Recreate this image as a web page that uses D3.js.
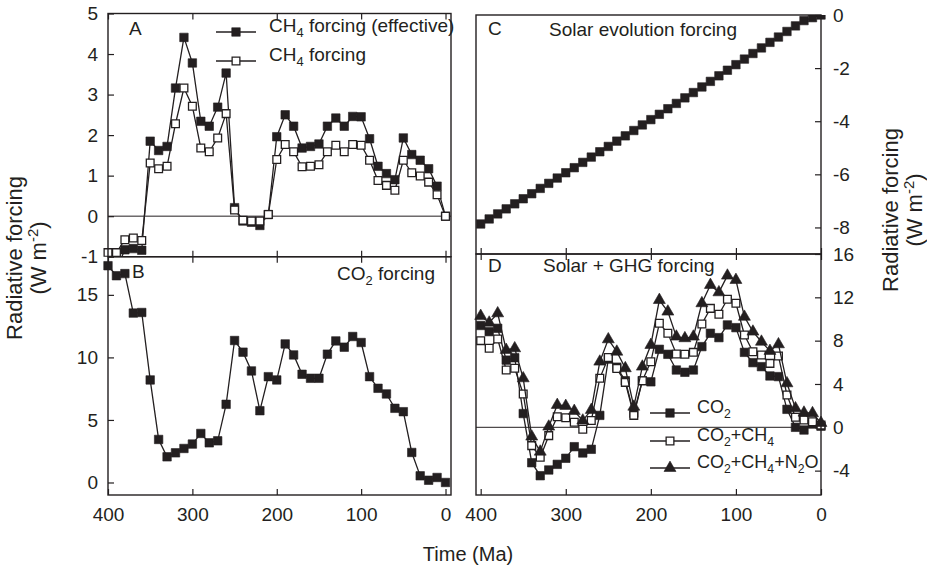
<!DOCTYPE html>
<html>
<head>
<meta charset="utf-8">
<script src="https://cdn.jsdelivr.net/npm/d3@7/dist/d3.min.js"></script>
<style>
  body { margin: 0; background: #fff; }
  svg { font-family: "Liberation Sans", Arial, sans-serif; }
  .axis text { font-size: 19px; fill: #231f20; }
  .axis line { stroke: #231f20; stroke-width: 1.2; }
  .axis path { display: none; }
  .frame { fill: none; stroke: #231f20; stroke-width: 1.4; }
  .series { fill: none; stroke: #231f20; stroke-width: 1.3; }
  .label { font-size: 19px; fill: #231f20; }
</style>
</head>
<body>
<svg id="chart" width="927" height="572"></svg>
<script>
// time (Ma), one point every 10 Myr
var time = [400, 390, 380, 370, 360, 350, 340, 330, 320, 310, 300, 290, 280, 270, 260, 250, 240, 230, 220, 210,
            200, 190, 180, 170, 160, 150, 140, 130, 120, 110, 100, 90, 80, 70, 60, 50, 40, 30, 20, 10, 0];

// panel A
var ch4Effective = [-1.27, -1.3, -0.83, -0.8, -0.84, 1.85, 1.62, 1.72, 3.16, 4.41, 3.78, 2.34, 2.22, 2.69, 3.53, 0.21, -0.12, -0.15, -0.23, 0.04,
                    1.96, 2.5, 2.22, 1.68, 1.72, 1.78, 2.22, 2.42, 2.22, 2.46, 2.45, 1.91, 1.23, 1.05, 0.9, 1.93, 1.52, 1.38, 1.17, 0.74, 0];
var ch4Forcing = [-0.9, -0.9, -0.58, -0.54, -0.6, 1.31, 1.17, 1.23, 2.28, 3.16, 2.71, 1.68, 1.59, 1.93, 2.53, 0.15, -0.1, -0.12, -0.12, 0.04,
                  1.4, 1.77, 1.59, 1.22, 1.23, 1.27, 1.59, 1.75, 1.59, 1.77, 1.75, 1.38, 0.88, 0.76, 0.64, 1.38, 1.07, 0.99, 0.84, 0.53, 0];

// panel B
var co2Forcing = [17.33, 16.53, 16.7, 13.54, 13.59, 8.2, 3.44, 2.05, 2.37, 2.72, 3.07, 3.92, 3.17, 3.33, 6.25, 11.35, 10.42, 8.92, 5.74, 8.46,
                  8.2, 11.08, 10.2, 8.65, 8.33, 8.33, 10.26, 11.32, 10.82, 11.67, 11.19, 8.46, 7.53, 7.08, 5.93, 5.66, 2.4, 0.53, 0.18, 0.4, 0];

// panel C
var solarForcing = [-7.87, -7.68, -7.49, -7.3, -7.11, -6.92, -6.73, -6.53, -6.34, -6.14, -5.94, -5.75, -5.55, -5.35, -5.15, -4.95, -4.75, -4.55, -4.35, -4.14,
                    -3.94, -3.74, -3.53, -3.33, -3.12, -2.92, -2.71, -2.5, -2.29, -2.08, -1.87, -1.66, -1.45, -1.24, -1.03, -0.83, -0.62, -0.41, -0.21, -0.1, 0];

// panel D
var dCO2 = [9.4, 8.83, 9.14, 6.2, 6.42, 1.27, -3.27, -4.47, -3.94, -3.42, -2.86, -1.79, -2.37, -2.03, 1.1, 6.3, 5.55, 4.3, 1.3, 4.3,
            4.2, 7.2, 6.74, 5.29, 5.08, 5.29, 7.45, 8.68, 8.28, 9.45, 9.2, 6.92, 5.97, 5.6, 4.74, 4.68, 1.66, 0, -0.25, 0.3, 0.1];
var dCO2CH4 = [8.0, 7.29, 8.15, 5.29, 5.45, 3.08, -1.69, -2.77, -0.77, 0.98, 0.89, 0.46, -0.18, 0.62, 4.52, 6.45, 5.42, 4.15, 1.1, 4.3,
               6.06, 9.6, 8.68, 6.77, 6.74, 6.92, 9.54, 10.98, 10.43, 11.82, 11.45, 8.52, 6.98, 6.68, 5.9, 6.58, 2.98, 0.92, 0.68, 0.52, 0.2];
var dCO2CH4N2O = [10.28, 9.66, 10.52, 7.14, 7.29, 4.52, -0.86, -2.25, 0.06, 2.06, 1.97, 1.51, 0.62, 1.6, 6.06, 8.12, 6.98, 5.45, 1.9, 5.6,
                  7.6, 11.75, 10.68, 8.37, 8.22, 8.37, 11.45, 13.14, 12.46, 14.0, 13.6, 10.2, 8.83, 7.9, 7.05, 7.66, 4.06, 1.75, 1.35, 1.3, 0.4];

var xTicks = [400, 300, 200, 100, 0];

var svg = d3.select('#chart');

// scales for the four panels
var xLeft = d3.scaleLinear().domain([400, -6.5]).range([108, 451]);
var xRight = d3.scaleLinear().domain([405.5, 0]).range([476, 821]);

var yA = d3.scaleLinear().domain([-1, 5]).range([256.7, 13.5]);
var yB = d3.scaleLinear().domain([-1, 18.05]).range([495, 256.7]);
var yC = d3.scaleLinear().domain([-9, 0]).range([254, 15]);
var yD = d3.scaleLinear().domain([-6.25, 16]).range([495, 254]);

// plain hyphen minus like the original
var fmt = function(d) { return String(d); };

var defs = svg.append('defs');

function pts(vals) {
    return time.map(function(t, i) { return { t: t, v: vals[i] }; });
}

// draw one series: line plus markers
function series(g, x, y, vals, kind) {
    var data = pts(vals);
    g.append('path')
      .datum(data)
      .attr('class', 'series')
      .attr('d', d3.line().x(function(d) { return x(d.t); }).y(function(d) { return y(d.v); }));
    marks(g, data.map(function(d) { return [x(d.t), y(d.v)]; }), kind);
}

function marks(g, xy, kind) {
    var sym = d3.symbol()
      .type(kind === 'tri' ? d3.symbolTriangle : d3.symbolSquare)
      .size(kind === 'tri' ? 62 : (kind === 'open' ? 60 : 72));
    g.selectAll(null)
      .data(xy)
      .enter().append('path')
      .attr('d', sym)
      .attr('transform', function(d) { return 'translate(' + d[0] + ',' + d[1] + ')'; })
      .attr('fill', kind === 'open' ? '#fff' : '#231f20')
      .attr('stroke', '#231f20')
      .attr('stroke-width', kind === 'open' ? 1.3 : 0.6);
}

// frame, ticks, optional zero line
function panel(id, x, y, opt) {
    var x0 = x.range()[0], x1 = x.range()[1];
    var y0 = y.range()[1], y1 = y.range()[0];

    if (opt.zero) {
        svg.append('line')
          .attr('x1', x0).attr('x2', x1)
          .attr('y1', y(0)).attr('y2', y(0))
          .attr('stroke', '#231f20').attr('stroke-width', 1);
    }

    // bottom ticks (inward)
    var bottom = svg.append('g').attr('class', 'axis')
      .attr('transform', 'translate(0,' + y1 + ')')
      .call(d3.axisBottom(x).tickValues(xTicks).tickFormat(fmt).tickSizeInner(-6).tickSizeOuter(0).tickPadding(13));
    if (!opt.xLabels) bottom.selectAll('text').remove();

    if (opt.topTicks) {
        svg.append('g').attr('class', 'axis')
          .attr('transform', 'translate(0,' + y0 + ')')
          .call(d3.axisTop(x).tickValues(xTicks).tickSizeInner(-6).tickSizeOuter(0))
          .selectAll('text').remove();
    }

    if (opt.side === 'left') {
        svg.append('g').attr('class', 'axis')
          .attr('transform', 'translate(' + x0 + ',0)')
          .call(d3.axisLeft(y).tickValues(opt.yTicks).tickFormat(fmt).tickSizeInner(-6).tickSizeOuter(0).tickPadding(10));
    } else {
        svg.append('g').attr('class', 'axis')
          .attr('transform', 'translate(' + x1 + ',0)')
          .call(d3.axisRight(y).tickValues(opt.yTicks).tickFormat(fmt).tickSizeInner(-6).tickSizeOuter(0).tickPadding(12));
    }

    // clip vertically to the frame
    defs.append('clipPath').attr('id', 'clip' + id)
      .append('rect')
      .attr('x', x0 - 20).attr('width', x1 - x0 + 40)
      .attr('y', y0).attr('height', y1 - y0);

    var g = svg.append('g').attr('clip-path', 'url(#clip' + id + ')');

    svg.append('rect').attr('class', 'frame')
      .attr('x', x0).attr('y', y0)
      .attr('width', x1 - x0).attr('height', y1 - y0);

    return g;
}

// text with sub/superscripts: parts = [[text, 'sub'|'sup'|undefined], ...]
function rich(parent, parts) {
    var shift = 0;
    parts.forEach(function(p) {
        var small = p[1] === 'sub' || p[1] === 'sup';
        var want = p[1] === 'sub' ? 5 : (p[1] === 'sup' ? -8 : 0);
        parent.append('tspan')
          .attr('dy', want - shift)
          .style('font-size', small ? '0.68em' : null)
          .text(p[0]);
        shift = want;
    });
}

function label(xp, yp, parts, anchor, size) {
    var t = svg.append('text').attr('class', 'label')
      .attr('x', xp).attr('y', yp).attr('dy', '0.35em')
      .attr('text-anchor', anchor || 'start');
    if (size) t.style('font-size', size + 'px');
    rich(t, parts);
    return t;
}

// panel A
var gA = panel('A', xLeft, yA, { side: 'left', yTicks: [-1, 0, 1, 2, 3, 4, 5], zero: true, topTicks: true });
series(gA, xLeft, yA, ch4Effective, 'filled');
series(gA, xLeft, yA, ch4Forcing, 'open');

// panel B
var gB = panel('B', xLeft, yB, { side: 'left', yTicks: [0, 5, 10, 15], xLabels: true, topTicks: true });
series(gB, xLeft, yB, co2Forcing, 'filled');

// panel C
var gC = panel('C', xRight, yC, { side: 'right', yTicks: [-8, -6, -4, -2, 0] });
series(gC, xRight, yC, solarForcing, 'filled');

// panel D
var gD = panel('D', xRight, yD, { side: 'right', yTicks: [-4, 0, 4, 8, 12, 16], zero: true, xLabels: true, topTicks: true });
series(gD, xRight, yD, dCO2, 'filled');
series(gD, xRight, yD, dCO2CH4, 'open');
series(gD, xRight, yD, dCO2CH4N2O, 'tri');

// panel letters and titles
label(129, 35, [['A']]);
label(132, 278, [['B']]);
label(488, 35, [['C']]);
label(488, 272, [['D']]);
label(435, 280, [['CO'], ['2', 'sub'], [' forcing']], 'end');
label(549, 36, [['Solar evolution forcing']]);
label(543, 272, [['Solar + GHG forcing']]);

// legend rows
function legendRow(lx, ly, kind, parts, gap, size) {
    svg.append('line').attr('class', 'series')
      .attr('x1', lx).attr('x2', lx + 40).attr('y1', ly).attr('y2', ly);
    marks(svg, [[lx + 20, ly]], kind);
    label(lx + gap, ly, parts, 'start', size);
}
legendRow(216, 32, 'filled', [['CH'], ['4', 'sub'], [' forcing (effective)']], 53);
legendRow(216, 61, 'open', [['CH'], ['4', 'sub'], [' forcing']], 53);

legendRow(650, 413, 'filled', [['CO'], ['2', 'sub']], 47, 18);
legendRow(650, 441, 'open', [['CO'], ['2', 'sub'], ['+CH'], ['4', 'sub']], 47, 18);
legendRow(650, 468, 'tri', [['CO'], ['2', 'sub'], ['+CH'], ['4', 'sub'], ['+N'], ['2', 'sub'], ['O']], 47, 18);

// axis titles
svg.append('text').attr('class', 'label')
  .attr('x', 468).attr('y', 554).attr('dy', '0.35em')
  .attr('text-anchor', 'middle').style('font-size', '20px')
  .text('Time (Ma)');

function yTitle(cx, cy) {
    var g = svg.append('g').attr('transform', 'translate(' + cx + ',' + cy + ') rotate(-90)');
    g.append('text').attr('class', 'label').attr('text-anchor', 'middle')
      .attr('y', -4).style('font-size', '22px')
      .text('Radiative forcing');
    var t = g.append('text').attr('class', 'label').attr('text-anchor', 'middle')
      .attr('y', 20).style('font-size', '22px');
    rich(t, [['(W m'], ['-2', 'sup'], [')']]);
}
yTitle(26, 258);
yTitle(902, 210);
</script>
</body>
</html>
